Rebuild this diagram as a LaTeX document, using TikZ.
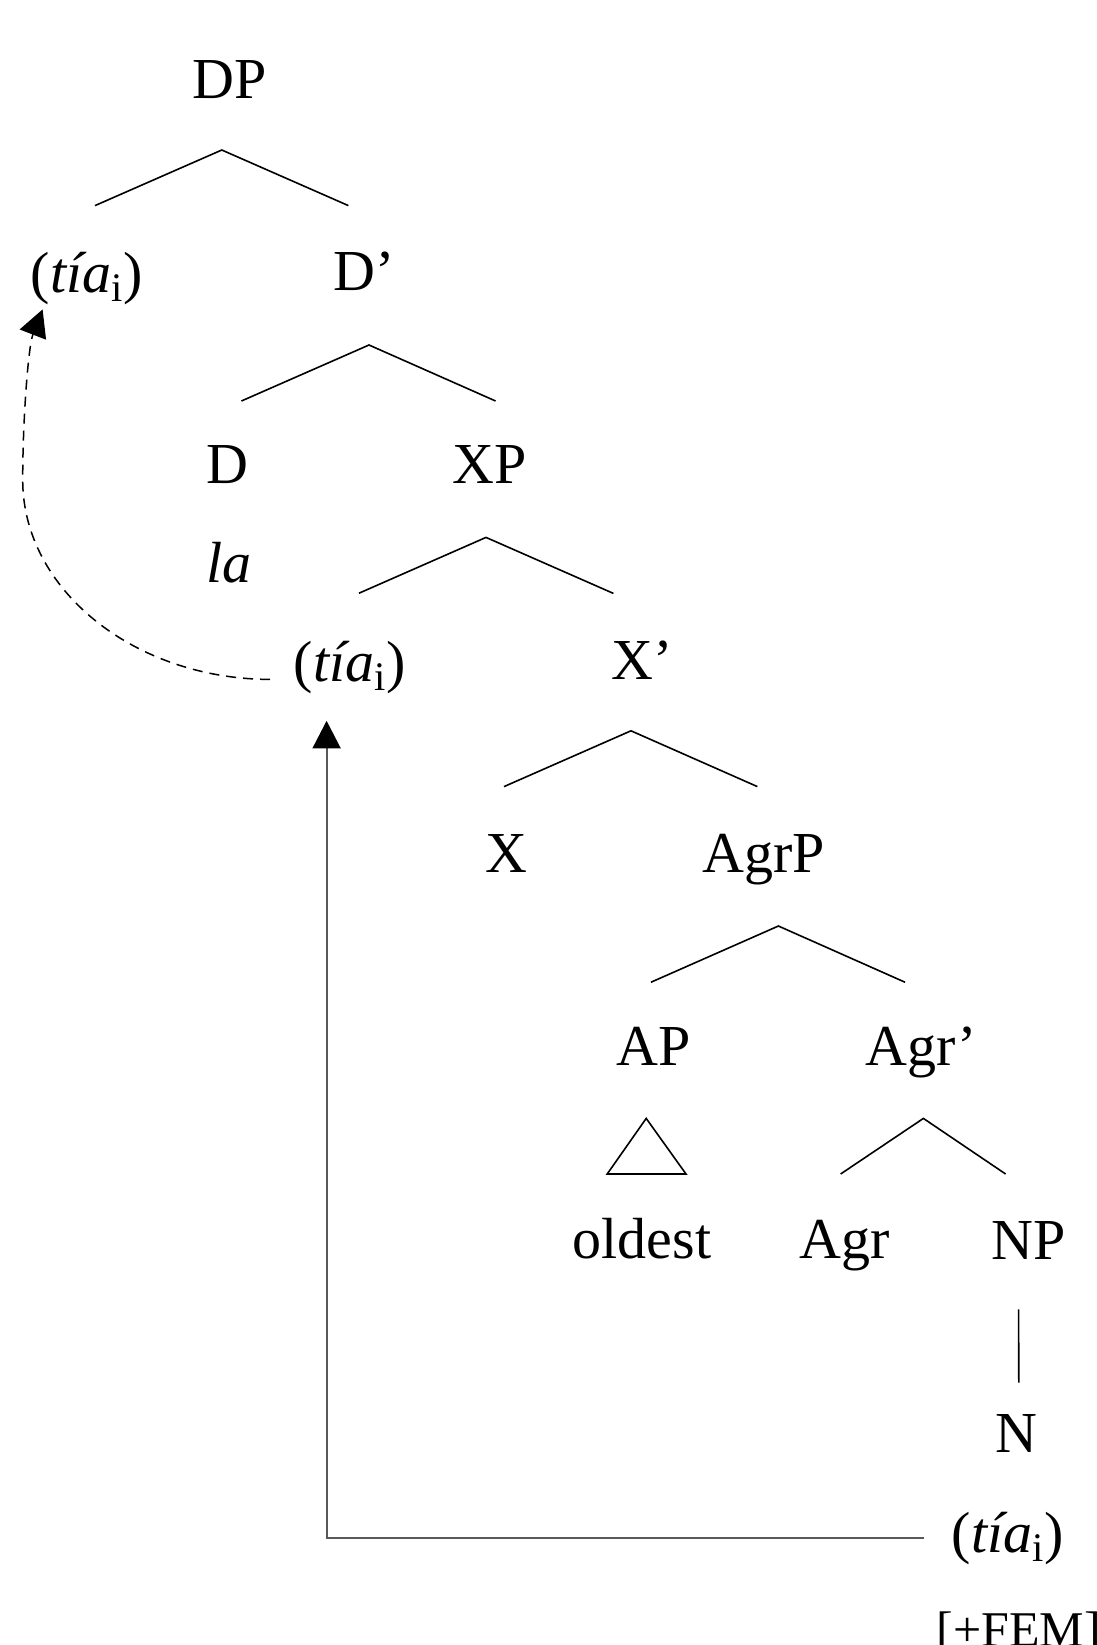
\documentclass[tikz,border=0pt]{standalone}
\usepackage{fontspec}
\setmainfont{Liberation Serif}
\usepackage{tikz}
\usetikzlibrary{arrows.meta}
\newcommand{\tiai}{(\textit{tía}\textsubscript{i})}

\begin{document}
\begin{tikzpicture}[x=0.5pt,y=-0.5pt,
  lbl/.style={anchor=base,inner sep=0pt,font=\fontsize{29}{34}\selectfont},
  branch/.style={line width=0.8pt},
  movearrow/.style={line width=1pt,black!65,-{Triangle[length=13.8pt,width=14pt,color=black]}},
  tracearrow/.style={line width=0.75pt,dash pattern=on 5pt off 3.5pt,-{Triangle[length=13.5pt,width=14pt]}}]
\useasboundingbox (0,0) rectangle (1097,1645);
\node[lbl] (dp) at (230,98) {DP};
\node[lbl] (tiaA) at (87,292) {\tiai};
\node[lbl] (dbar) at (364,290) {D’};
\node[lbl] (dhead) at (227,483) {D};
\node[lbl] (xp) at (490,483) {XP};
\node[lbl] (la) at (229,582) {\textit{la}};
\node[lbl] (tiaM) at (350,681) {\tiai};
\node[lbl] (xbar) at (642,679) {X’};
\node[lbl] (xhead) at (506,872) {X};
\node[lbl] (agrp) at (764,872) {AgrP};
\node[lbl] (ap) at (654,1065) {AP};
\node[lbl] (agrbar) at (921,1065) {Agr’};
\node[lbl] (oldest) at (642,1258) {oldest};
\node[lbl] (agr) at (845,1258) {Agr};
\node[lbl] (np) at (1029,1259) {NP};
\node[lbl] (n) at (1016,1452) {N};
\node[lbl] (tiaN) at (1008,1552) {\tiai};
\node[lbl,anchor=base west,font=\fontsize{25}{30}\selectfont] (fem) at (936,1646) {[+FEM]};
\coordinate (bend) at (22.7,480);
% branches
\draw[branch] ([xshift=4pt,yshift=43.2pt]tiaA.base) -- ([xshift=-4.1pt,yshift=-26pt]dp.base) -- ([xshift=-7.8pt,yshift=42.2pt]dbar.base);
\draw[branch] ([xshift=7.2pt,yshift=41pt]dhead.base) -- ([xshift=2.5pt,yshift=-27.5pt]dbar.base) -- ([xshift=2.8pt,yshift=41pt]xp.base);
\draw[branch] ([xshift=4.5pt,yshift=43.9pt]tiaM.base) -- ([xshift=-2pt,yshift=-27.2pt]xp.base) -- ([xshift=-14.3pt,yshift=42.8pt]xbar.base);
\draw[branch] ([xshift=-1pt,yshift=42.7pt]xhead.base) -- ([xshift=-5.5pt,yshift=-25.9pt]xbar.base) -- ([xshift=-3.3pt,yshift=42.7pt]agrp.base);
\draw[branch] ([xshift=-1.5pt,yshift=41.4pt]ap.base) -- ([xshift=7.2pt,yshift=-27pt]agrp.base) -- ([xshift=-8pt,yshift=41.4pt]agrbar.base);
\draw[branch] ([xshift=-2.2pt,yshift=42pt]agr.base) -- ([xshift=1.2pt,yshift=-26.7pt]agrbar.base) -- ([xshift=-11.7pt,yshift=42.5pt]np.base);
\draw[branch] ([xshift=-3.9pt,yshift=-26.7pt]ap.base) -- ([xshift=-17.4pt,yshift=42pt]oldest.base) -- ([xshift=22pt,yshift=42pt]oldest.base) -- cycle;
\draw[branch] ([xshift=-5.2pt,yshift=-25.2pt]np.base) -- ([xshift=1.4pt,yshift=34.7pt]n.base);
% movement
\draw[movearrow] ([xshift=-42.2pt,yshift=6.9pt]tiaN.base) -| ([xshift=-11.7pt,yshift=-19.9pt]tiaM.base);
\draw[tracearrow] ([xshift=-40pt,yshift=0.8pt]tiaM.base) .. controls (134,679) and (22.7,589.5) .. (bend)
  .. controls (22.7,420) and (28.2,346.6) .. ([xshift=-22.2pt,yshift=-8.7pt]tiaA.base);
\end{tikzpicture}
\end{document}
